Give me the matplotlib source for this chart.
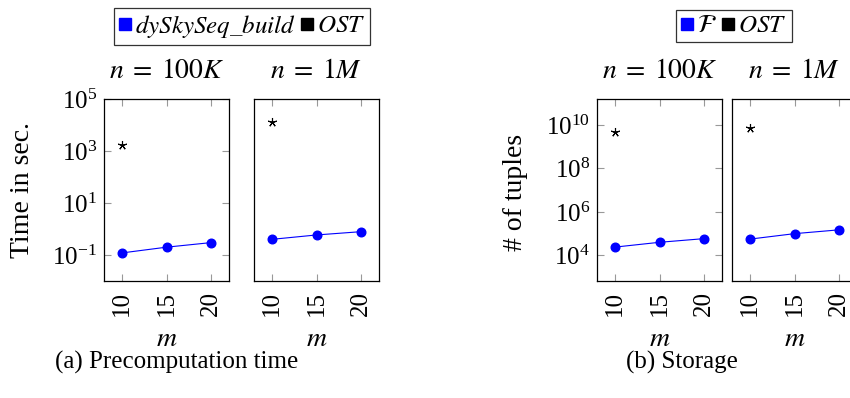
import matplotlib
matplotlib.use('Agg')
import matplotlib.pyplot as plt
from matplotlib.lines import Line2D

plt.rcParams['font.family'] = ['Liberation Serif', 'DejaVu Serif']
plt.rcParams['mathtext.fontset'] = 'stix'

m_values = [10, 15, 20]

# precomputation time (sec.)
time_dysky_100k = [0.12, 0.20, 0.30]
time_dysky_1m = [0.40, 0.59, 0.79]
time_ost_100k = [1700]
time_ost_1m = [13500]

# storage (# of tuples)
store_f_100k = [24000, 40000, 59000]
store_f_1m = [56000, 100000, 150000]
store_ost_100k = [4.9e9]
store_ost_1m = [7.5e9]

subplot_titles = [r'$n\;=\;100K$', r'$n\;=\;1M$']

W, H = 850, 398
fig = plt.figure(figsize=(W / 100, H / 100), dpi=100)


def make_ax(left_px, ylim, yticks, show_y):
    ax = fig.add_axes([left_px / W, 1 - 281 / H, 125 / W, 182 / H])
    ax.set_yscale('log')
    ax.set_ylim(*ylim)
    ax.set_xlim(8, 22)
    ax.set_xticks(m_values)
    ax.set_xticklabels([str(v) for v in m_values], rotation=90, fontsize=18)
    ax.minorticks_off()
    if show_y:
        ax.set_yticks(yticks)
    else:
        ax.set_yticks([])
    ax.tick_params(direction='in', length=5, width=0.8, color='#999999',
                   top=True, right=True, labelsize=18, pad=5)
    ax.tick_params(axis='x', pad=7)
    for sp in ax.spines.values():
        sp.set_linewidth(0.9)
    ax.set_xlabel(r'$m$', fontsize=20, labelpad=8)
    return ax


def draw(ax, main, ost, title):
    ax.plot(m_values, main, color='blue', lw=0.8, marker='o', ms=6.2)
    ax.plot(m_values[:len(ost)], ost, ls='none', color='black',
            marker=(5, 2, 0), ms=6.5, mew=0.8)
    ax.set_title(title, fontsize=20, pad=15)


time_lim = (1e-2, 1e5)
time_ticks = [1e-1, 1e1, 1e3, 1e5]
store_lim = (10 ** 2.82, 10 ** 11.2)
store_ticks = [1e4, 1e6, 1e8, 1e10]

ax1 = make_ax(104, time_lim, time_ticks, True)
ax2 = make_ax(254, time_lim, time_ticks, False)
ax3 = make_ax(597, store_lim, store_ticks, True)
ax4 = make_ax(732, store_lim, store_ticks, False)

draw(ax1, time_dysky_100k, time_ost_100k, subplot_titles[0])
draw(ax2, time_dysky_1m, time_ost_1m, subplot_titles[1])
draw(ax3, store_f_100k, store_ost_100k, subplot_titles[0])
draw(ax4, store_f_1m, store_ost_1m, subplot_titles[1])

fig.text(23 / W, 1 - 190 / H, 'Time in sec.', rotation=90,
         ha='center', va='center', fontsize=20)
fig.text(515 / W, 1 - 192 / H, '# of tuples', rotation=90,
         ha='center', va='center', fontsize=20)


def legend(labels, cx):
    handles = [Line2D([], [], ls='none', marker='s', ms=9, color='blue'),
               Line2D([], [], ls='none', marker='s', ms=9, color='black')]
    lg = fig.legend(handles, labels, loc='center',
                    bbox_to_anchor=(cx / W, 1 - 26 / H), ncol=2,
                    fontsize=18, frameon=True, fancybox=False,
                    handlelength=0.5, handletextpad=0.15, columnspacing=0.2,
                    borderpad=0.2, borderaxespad=0)
    lg.get_frame().set_edgecolor('black')
    lg.get_frame().set_linewidth(0.9)


legend([r'$dySkySeq\_build$', r'$OST$'], 242)
legend([r'$\mathcal{F}$', r'$OST$'], 734)

fig.text(177 / W, 1 - 362 / H, '(a) Precomputation time',
         ha='center', va='center', fontsize=18)
fig.text(682 / W, 1 - 362 / H, '(b) Storage',
         ha='center', va='center', fontsize=18)

fig.savefig('out.png', dpi=100)
